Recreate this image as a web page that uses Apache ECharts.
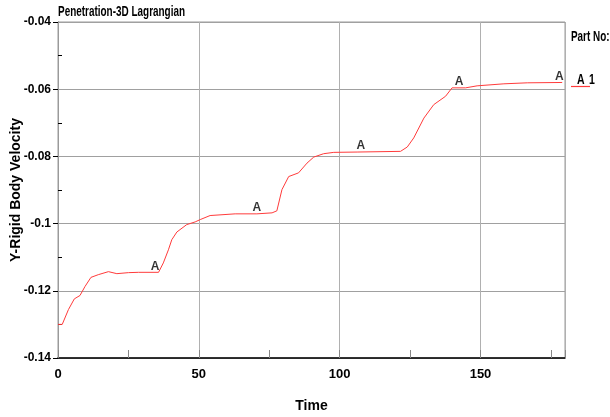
<!DOCTYPE html>
<html>
<head>
<meta charset="utf-8">
<script src="https://cdn.jsdelivr.net/npm/echarts@6/dist/echarts.min.js"></script>
<style>html,body{margin:0;padding:0;background:#fff;}#c{width:610px;height:417px;}</style>
</head>
<body>
<div id="c"></div>
<script>
var timeValues = [0, 1.5, 3.7, 5.8, 7.8, 9.6, 11.7, 14.3, 17.9, 20.9, 25, 28.6, 35.7, 37.4, 39.2, 40.4, 42.2, 45.7, 48.7, 50.5, 54, 62.9, 70.6, 76, 77.7, 79.5, 81.9, 85.4, 88.4, 90.8, 94.3, 97.9, 106.2, 121.6, 124, 126.3, 129.9, 133.4, 137.6, 139.9, 144.7, 148.8, 158.3, 166.6, 179];
var velocityValues = [-0.13, -0.13, -0.1256, -0.1224, -0.1214, -0.1187, -0.116, -0.1152, -0.1143, -0.1149, -0.1146, -0.1145, -0.1145, -0.1117, -0.1078, -0.1048, -0.1025, -0.1003, -0.0995, -0.0988, -0.0976, -0.0971, -0.0971, -0.0968, -0.0962, -0.0899, -0.086, -0.0849, -0.082, -0.0802, -0.0792, -0.0788, -0.0787, -0.0785, -0.0772, -0.0745, -0.0686, -0.0646, -0.0621, -0.0596, -0.0596, -0.059, -0.0584, -0.0581, -0.058];
var markerTimes = [34.5, 70.6, 107.5, 142.4, 178];
var markerValues = [-0.1145, -0.0971, -0.0787, -0.0596, -0.058];
var xTicks = [0, 50, 100, 150];
var partLabel = 'A';
var partNumber = '1';
var titleText = 'Penetration-3D Lagrangian';
var legendTitle = 'Part No:';
var xTitle = 'Time';
var yTitle = 'Y-Rigid Body Velocity';

var fontFam = "'Liberation Sans Narrow', 'Arial Narrow', 'Liberation Sans', Arial, sans-serif";
var lineColor = '#ff3b3b';

var chart = echarts.init(document.getElementById('c'), null, {renderer: 'canvas'});
var lineData = timeValues.map(function (t, i) { return [t, velocityValues[i]]; });
var markData = markerTimes.map(function (t, i) { return [t, markerValues[i]]; });

function gText(txt, left, top, size, sx) {
  return {type: 'text', left: left, top: top, scaleX: sx, scaleY: 1,
    style: {text: txt, fontFamily: fontFam, fontWeight: 'bold', fontSize: size, fill: '#000'}};
}

chart.setOption({
  animation: false,
  backgroundColor: '#ffffff',
  grid: {left: 58, right: 45, top: 22, bottom: 59, show: true, borderColor: '#9a9a9a', borderWidth: 1,
    containLabel: false, outerBoundsMode: 'none'},
  xAxis: {
    type: 'value', min: 0, max: 180, interval: 50,
    name: xTitle, nameLocation: 'middle', nameGap: 41, nameMoveOverlap: false,
    nameTextStyle: {fontFamily: fontFam, fontWeight: 'bold', fontSize: 14, color: '#000'},
    axisLine: {show: true, onZero: false, lineStyle: {color: '#000', width: 1.5}},
    axisTick: {show: true, inside: true, length: 8, lineStyle: {color: '#888'}},
    minorTick: {show: true, splitNumber: 2, length: 8, lineStyle: {color: '#888'}},
    axisLabel: {margin: 10, fontFamily: fontFam, fontWeight: 'bold', fontSize: 13, color: '#000',
      customValues: xTicks},
    splitLine: {show: true, lineStyle: {color: '#b0b0b0', width: 1}}
  },
  yAxis: [{
    type: 'value', min: -0.14, max: -0.04, interval: 0.02,
    name: yTitle, nameLocation: 'middle', nameGap: 35, nameRotate: 90, nameMoveOverlap: false,
    nameTextStyle: {fontFamily: "'Liberation Sans', Arial, sans-serif", fontWeight: 'bold', fontSize: 14, color: '#000'},
    axisLine: {show: true, onZero: false, lineStyle: {color: '#888', width: 1}},
    axisTick: {show: true, inside: false, length: 5, lineStyle: {color: '#000'}},
    axisLabel: {margin: 7, fontFamily: fontFam, fontWeight: 'bold', fontSize: 12, color: '#000',
      formatter: function (v) { return String(Math.round(v * 100) / 100); }},
    splitLine: {show: true, lineStyle: {color: '#a0a0a0', width: 1}}
  }, {
    type: 'value', min: -0.14, max: -0.04, interval: 0.02, position: 'right',
    axisLine: {show: true, lineStyle: {color: '#9a9a9a'}},
    axisTick: {show: true, inside: true, length: 4, lineStyle: {color: '#000'}},
    axisLabel: {show: false},
    splitLine: {show: false}
  }, {
    type: 'value', min: -0.14, max: -0.04, interval: 0.02, position: 'left',
    axisLine: {show: false},
    axisTick: {show: false, inside: true},
    minorTick: {show: true, splitNumber: 2, length: 4, lineStyle: {color: '#000'}},
    axisLabel: {show: false},
    splitLine: {show: false}
  }],
  series: [{
    name: partLabel + ' ' + partNumber, type: 'line', data: lineData, showSymbol: false, symbol: 'none',
    lineStyle: {color: lineColor, width: 1}, z: 3
  }, {
    type: 'scatter', data: markData, symbolSize: 0, silent: true,
    label: {show: true, position: 'top', distance: 0, formatter: partLabel,
      fontFamily: fontFam, fontWeight: 'bold', fontSize: 12, color: '#000'}, z: 4
  }],
  graphic: [
    gText(titleText, 58, 5, 14, 0.71),
    gText(legendTitle, 571, 29, 15, 0.66),
    gText(partLabel, 577, 73, 14, 0.75),
    gText(partNumber, 589, 73, 14, 0.75),
    {type: 'line', shape: {x1: 571, y1: 86.5, x2: 590, y2: 86.5}, style: {stroke: lineColor, lineWidth: 1.2}}
  ]
});
</script>
</body>
</html>
